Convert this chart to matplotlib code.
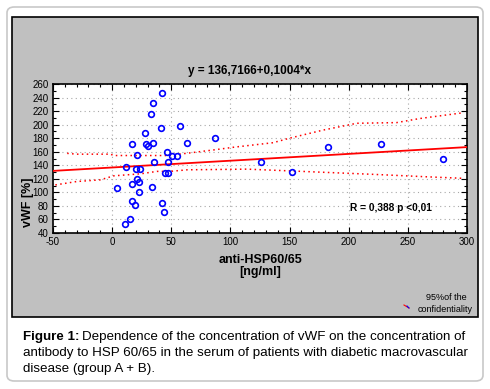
import matplotlib.pyplot as plt
from matplotlib.patches import FancyBboxPatch, Rectangle
from matplotlib.ticker import MultipleLocator

plt.rcParams['font.family'] = ['Liberation Sans', 'DejaVu Sans']
plt.rcParams['axes.unicode_minus'] = False

# scatter points
anti_hsp = [42, 34.5, 33, 41, 57.5, 27.5, 17, 28.5, 30.5, 34.5, 63, 87,
            21, 46.5, 50.5, 55, 35, 47, 12, 20, 23.5, 44.7, 47, 21, 16.5,
            22.7, 4.4, 23, 33.4, 17, 19.3, 42.4, 44.1, 15, 10.9,
            125.8, 152.3, 182.7, 227.5, 280]
vwf = [246, 232, 215, 195, 198, 187, 171, 171, 168, 173, 173, 181,
       155, 160, 153, 153, 145, 144.5, 138, 134, 134, 128, 128, 119, 113,
       115, 106, 100, 107.4, 87.6, 80.8, 84.7, 71.4, 60.6, 53,
       144.3, 129.6, 166.5, 171, 148.8]

# regression y = a + b*x
intercept = 136.7166
slope = 0.1004
line_x = [-50, 300]

# 95% band
upper_x = [-38, -30, -1.4, 1.4, 46.6, 63.6, 86, 103, 136, 150, 178.5, 206.7, 240.5, 260, 297]
upper_y = [157.6, 156.4, 156.4, 154.4, 154.4, 157.8, 162.7, 166.7, 173.3, 180, 192, 202, 203, 209, 217.6]
lower_x = [-48, -30, -10, 1.4, 24, 38, 49, 63.6, 114, 132, 153, 220.8, 265.8, 297]
lower_y = [111, 116, 118.5, 124.4, 127.4, 131, 131, 133.3, 134.3, 133, 131.5, 126.6, 123, 120.7]

W, H = 490, 389
fig = plt.figure(figsize=(W / 100, H / 100), dpi=100)
fig.patch.set_facecolor('white')


def fx(px):
    return px / W


def fy(py):
    return 1 - py / H


# outer rounded frame
fig.patches.append(FancyBboxPatch((fx(7), fy(381)), fx(476), 374 / H,
                                  boxstyle='round,pad=0,rounding_size=0.015',
                                  transform=fig.transFigure, facecolor='white',
                                  edgecolor='#c8c8c8', lw=1.2, zorder=-3))
# gray panel
fig.patches.append(Rectangle((fx(11.5), fy(317)), fx(466.5), 300 / H,
                             transform=fig.transFigure, facecolor='#c0c0c0',
                             edgecolor='black', lw=1.2, zorder=-2))

ax = fig.add_axes([fx(53), fy(233), fx(414), 149 / H])
ax.set_facecolor('white')

ax.plot(line_x, [intercept + slope * v for v in line_x], color='red', lw=1.3, zorder=3)
ax.plot(upper_x, upper_y, color='red', lw=1.1, ls=(0, (1, 2.2)), zorder=3)
ax.plot(lower_x, lower_y, color='red', lw=1.1, ls=(0, (1, 2.2)), zorder=3)
ax.plot(anti_hsp, vwf, 'o', mfc='none', mec='#0000ff', ms=4.1, mew=1.2, zorder=4)

ax.set_xlim(-50, 300)
ax.set_ylim(40, 260)
ax.xaxis.set_major_locator(MultipleLocator(50))
ax.xaxis.set_minor_locator(MultipleLocator(10))
ax.yaxis.set_major_locator(MultipleLocator(20))
ax.yaxis.set_minor_locator(MultipleLocator(10))
ax.tick_params(which='both', direction='in', top=True, right=True, width=0.8)
ax.tick_params(which='major', length=4, labelsize=7, pad=3)
ax.tick_params(which='minor', length=2)
ax.grid(True, which='major', color='#a8a8a8', ls=(0, (1, 3)), lw=0.8)
for s in ax.spines.values():
    s.set_linewidth(1.2)

ax.text(201, 77, 'R = 0,388 p <0,01', fontsize=7.3, fontweight='bold',
        va='center', ha='left')

fig.text(fx(249), fy(71), 'y = 136,7166+0,1004*x', fontsize=8.5,
         fontweight='bold', ha='center', va='center')
fig.text(fx(28), fy(202), 'vWF [%]', fontsize=9, fontweight='bold',
         rotation=90, ha='center', va='center')
fig.text(fx(260), fy(266), 'anti-HSP60/65\n[ng/ml]', fontsize=9,
         fontweight='bold', ha='center', va='center', linespacing=0.95)

fig.text(fx(467), fy(297), '95%of the', fontsize=6.5, ha='right', va='center')
fig.text(fx(473), fy(310), 'confidentiality', fontsize=6.5, ha='right', va='center')
fig.lines.append(plt.Line2D([fx(404), fx(409)], [fy(305), fy(308)],
                            transform=fig.transFigure, color='red', lw=0.8))
fig.lines.append(plt.Line2D([fx(407), fx(409)], [fy(306), fy(308)],
                            transform=fig.transFigure, color='blue', lw=0.8))

# caption
cap_size = 9.6
cap_bold = fig.text(fx(23), fy(337), 'Figure 1:', fontsize=cap_size, fontweight='bold',
                    ha='left', va='center')
fig.canvas.draw()
bb = cap_bold.get_window_extent()
fig.text((bb.x1 + 3) / W, fy(337),
         'Dependence of the concentration of vWF on the concentration of',
         fontsize=cap_size, ha='left', va='center')
fig.text(fx(23), fy(353),
         'antibody to HSP 60/65 in the serum of patients with diabetic macrovascular',
         fontsize=cap_size, ha='left', va='center')
fig.text(fx(23), fy(369), 'disease (group A + B).', fontsize=cap_size, ha='left', va='center')

fig.savefig('out.png', dpi=100)
